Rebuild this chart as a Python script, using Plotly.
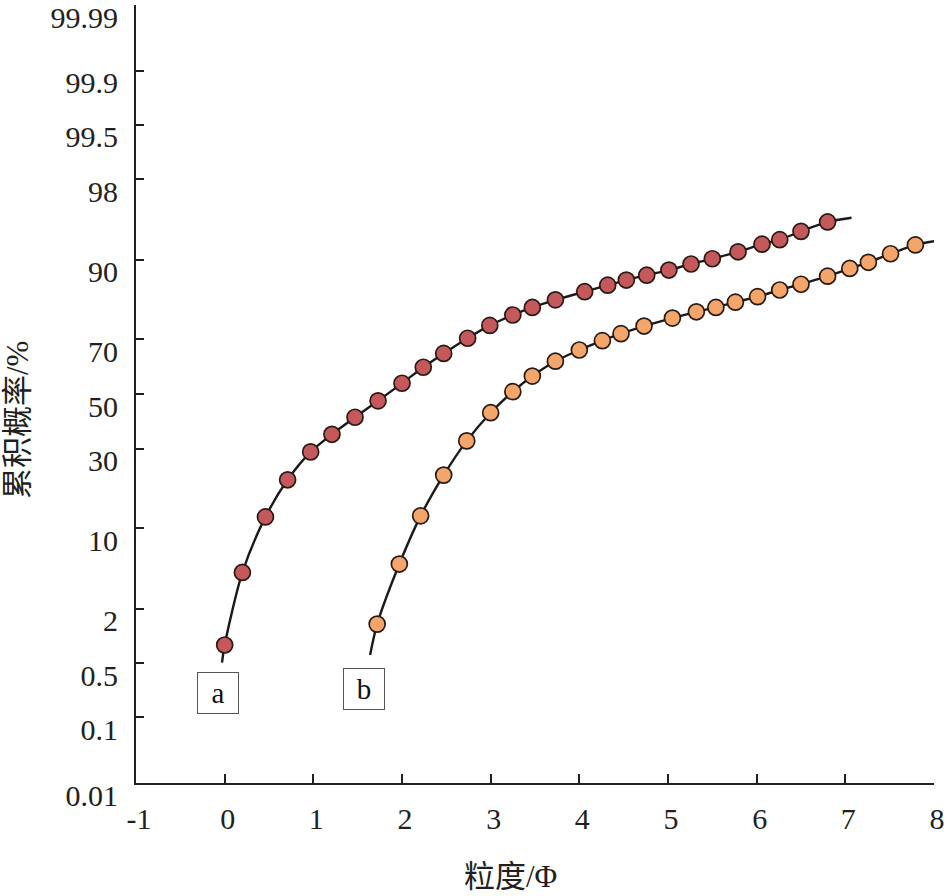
import plotly.graph_objects as go
from statistics import NormalDist

ND = NormalDist()

def probit(p):
    return ND.inv_cdf(p / 100.0)

# ---- data ----
phi_a = [0.00, 0.20, 0.46, 0.71, 0.97, 1.21, 1.47, 1.73, 2.00, 2.24, 2.47, 2.74, 2.99,
         3.25, 3.47, 3.73, 4.06, 4.32, 4.53, 4.76, 5.01, 5.26, 5.50, 5.79, 6.06, 6.26,
         6.50, 6.80]
cum_a = [0.82, 4.4, 12.0, 20.6, 29.0, 35.0, 41.2, 47.4, 54.1, 60.1, 65.1, 70.3, 74.4,
         77.5, 79.6, 81.6, 83.6, 85.1, 86.2, 87.2, 88.2, 89.3, 90.2, 91.3, 92.4, 93.0,
         94.0, 95.0]

phi_b = [1.72, 1.97, 2.21, 2.47, 2.73, 3.00, 3.25, 3.47, 3.73, 4.00, 4.26, 4.47, 4.73,
         5.05, 5.32, 5.54, 5.76, 6.01, 6.26, 6.50, 6.80, 7.05, 7.26, 7.51, 7.79]
cum_b = [1.39, 5.2, 12.2, 21.9, 32.7, 42.9, 50.9, 56.8, 62.3, 66.3, 69.5, 71.8, 74.2,
         76.6, 78.4, 79.6, 81.0, 82.4, 84.0, 85.3, 87.0, 88.5, 89.6, 91.0, 92.3]

# fitted curve end points
curve_a_start = (-0.03, 0.51)
curve_a_end = (7.07, 95.4)
curve_b_start = (1.64, 0.63)
curve_b_end = (8.0, 92.8)

ytick_labels = ["0.01", "0.1", "0.5", "2", "10", "30", "50", "70", "90", "98", "99.5", "99.9", "99.99"]
ytick_values = [float(t) for t in ytick_labels]
xtick_values = [-1, 0, 1, 2, 3, 4, 5, 6, 7, 8]

labels = ["a", "b"]
label_pos = [(-0.07, -2.854), (1.57, -2.82)]

x_title = "粒度/Φ"
y_title = "累积概率/%"

FONT = "Liberation Serif, Times New Roman, Noto Sans CJK SC, serif"
AXC = "#231f20"

fig = go.Figure()

for phis, cums, start, end in [(phi_a, cum_a, curve_a_start, curve_a_end),
                               (phi_b, cum_b, curve_b_start, curve_b_end)]:
    cx = [start[0]] + phis + [end[0]]
    cy = [probit(start[1])] + [probit(c) for c in cums] + [probit(end[1])]
    fig.add_trace(go.Scatter(x=cx, y=cy, mode="lines", line=dict(color="#1a1a1a", width=2.4, shape="spline", smoothing=0.8),
                             showlegend=False, hoverinfo="skip"))

for phis, cums, col in [(phi_a, cum_a, "#c4585a"), (phi_b, cum_b, "#f4a66a")]:
    fig.add_trace(go.Scatter(x=phis, y=[probit(c) for c in cums], mode="markers",
                             marker=dict(size=16, color=col, line=dict(color="#2a1a14", width=1.7)),
                             showlegend=False, cliponaxis=False))

for lab, (lx, ly) in zip(labels, label_pos):
    fig.add_annotation(x=lx, y=ly, xref="x", yref="y", text=lab, showarrow=False,
                       font=dict(family=FONT, size=29, color="#111"),
                       bordercolor="#555", borderwidth=1, borderpad=0, width=40, height=40,
                       bgcolor="white")

# axis titles placed as annotations (paper coords)
fig.add_annotation(x=(510 - 136) / 798, y=(896 - 113 - 876) / 778, xref="paper", yref="paper",
                   text=x_title, showarrow=False, xanchor="center", yanchor="middle",
                   font=dict(family=FONT, size=31, color="#231f20"))
fig.add_annotation(x=(17 - 136) / 798, y=(783 - 420) / 778, xref="paper", yref="paper",
                   text=y_title, showarrow=False, xanchor="center", yanchor="middle", textangle=-90,
                   font=dict(family=FONT, size=31, color="#231f20"))

fig.update_layout(
    width=946, height=896,
    margin=dict(l=136, r=12, t=5, b=113),
    plot_bgcolor="white", paper_bgcolor="white",
    font=dict(family=FONT, size=30, color="#231f20"),
    xaxis=dict(range=[-1, 8], tickvals=xtick_values, ticktext=[str(v) for v in xtick_values],
               showline=True, linecolor=AXC, linewidth=2, ticks="inside", ticklen=9, tickwidth=2,
               tickcolor=AXC, showgrid=False, zeroline=False, ticklabelshift=3, ticklabelstandoff=8,
               automargin=False, ticklabeloverflow="allow"),
    yaxis=dict(range=[probit(0.01), probit(99.99)], tickvals=[probit(v) for v in ytick_values],
               ticktext=ytick_labels, showline=True, linecolor=AXC, linewidth=2, ticks="inside",
               ticklen=8, tickwidth=2, tickcolor=AXC, showgrid=False, zeroline=False,
               ticklabelshift=12, ticklabelstandoff=10, automargin=False, ticklabeloverflow="allow"),
)

fig.write_html("out.html", config={"displayModeBar": False},
               post_script="document.body.style.margin='0';document.body.style.padding='0';")
